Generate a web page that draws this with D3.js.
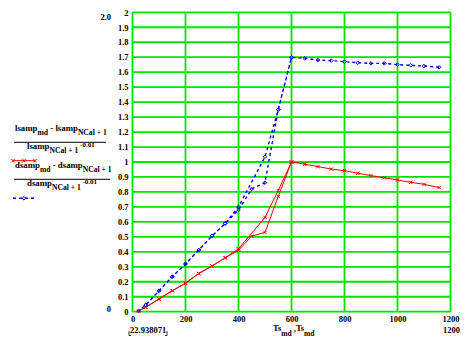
<!DOCTYPE html>
<html>
<head>
<meta charset="utf-8">
<script src="https://cdn.jsdelivr.net/npm/d3@7"></script>
<style>
  html, body { margin: 0; padding: 0; background: #fff; }
  svg text { font-family: "Liberation Serif", "Times New Roman", serif; font-weight: bold; fill: #000; }
</style>
</head>
<body>
<svg id="chart" width="475" height="340"></svg>
<script>
// Temperature sweep: cooling from 1157 down to 22.94, then heating back up to 600.
const ts = [1157, 1100, 1050, 1000, 950, 900, 850, 800, 750, 700, 650, 600,
            550, 500, 450, 400, 350, 300, 250, 200, 150, 100, 50, 22.938071,
            50, 100, 150, 200, 250, 300, 350, 400, 500, 550, 600];

// Normalised lsamp ratio (red)
const lRatio = [0.829, 0.851, 0.864, 0.880, 0.895, 0.909, 0.925, 0.942, 0.953, 0.969, 0.985, 1.000,
                0.770, 0.530, 0.505, 0.410, 0.360, 0.305, 0.255, 0.190, 0.140, 0.085, 0.030, 0.005,
                0.030, 0.085, 0.140, 0.190, 0.255, 0.305, 0.360, 0.420, 0.630, 0.810, 1.000];

// Normalised dsamp ratio (blue)
const dRatio = [1.633, 1.641, 1.646, 1.650, 1.659, 1.659, 1.663, 1.670, 1.677, 1.681, 1.693, 1.699,
                1.350, 0.862, 0.820, 0.680, 0.590, 0.506, 0.412, 0.319, 0.234, 0.140, 0.045, 0.005,
                0.045, 0.140, 0.234, 0.319, 0.412, 0.506, 0.590, 0.700, 1.035, 1.350, 1.699];

const xTicks = [0, 200, 400, 600, 800, 1000, 1200];
const yDomain = [0, 2];
const xDomain = [0, 1200];

const svg = d3.select("#chart");
const x = d3.scaleLinear(xDomain, [132.5, 450.5]);
const y = d3.scaleLinear(yDomain, [311.7, 12.3]);
const green = "#00e400";

// Grid (green lattice, frame included)
const grid = svg.append("g");
grid.selectAll("line.v").data(xTicks).join("line")
  .attr("x1", d => x(d)).attr("x2", d => x(d))
  .attr("y1", y(0)).attr("y2", y(2))
  .attr("stroke", green).attr("stroke-width", 1.8);
grid.selectAll("line.h").data(y.ticks(20)).join("line")
  .attr("x1", x(0)).attr("x2", x(1200))
  .attr("y1", d => y(d)).attr("y2", d => y(d))
  .attr("stroke", green).attr("stroke-width", 1.8);

// Axis labels via d3 axes (tick lines hidden; the grid carries them)
const yAxis = svg.append("g").attr("transform", `translate(${x(0)},0)`)
  .call(d3.axisLeft(y).ticks(20).tickFormat(d3.format("~g")).tickSize(0).tickPadding(4));
yAxis.select(".domain").remove();
yAxis.selectAll("text").attr("font-size", 8.5).attr("dy", "0.32em")
  .style("font-family", "Liberation Serif").style("font-weight", "bold");

const xAxis = svg.append("g").attr("transform", `translate(0,${y(0)})`)
  .call(d3.axisBottom(x).tickValues(xTicks).tickFormat(d3.format("d")).tickSize(0).tickPadding(4));
xAxis.select(".domain").remove();
xAxis.selectAll("text").attr("font-size", 8.5)
  .style("font-family", "Liberation Serif").style("font-weight", "bold");

// Axis limit labels
svg.append("text").attr("x", 111).attr("y", 19.5).attr("text-anchor", "end").attr("font-size", 8.5).text("2.0");
svg.append("text").attr("x", 111).attr("y", 312).attr("text-anchor", "end").attr("font-size", 8.5).text("0");
svg.append("text").attr("x", 130).attr("y", 333).attr("font-size", 8.5).text("22.938071");
svg.append("text").attr("x", 460).attr("y", 333).attr("text-anchor", "end").attr("font-size", 8.5).text("1200");
// placeholder corner marks around the lower-left limit
svg.append("path").attr("d", "M129,331V335.5H131 M167,331V335.5H165")
  .attr("stroke", "#000").attr("stroke-width", 0.8).attr("fill", "none");

// x axis expression: Ts_md , Ts_md
const xl = svg.append("text").attr("x", 273).attr("y", 331).attr("font-size", 8.5);
xl.append("tspan").text("Ts");
xl.append("tspan").attr("dy", 5).attr("font-size", 7.5).text("md");
xl.append("tspan").attr("dy", -5).text(" ,Ts");
xl.append("tspan").attr("dy", 5).attr("font-size", 7.5).text("md");

// Series
const pts = ts.map((t, i) => ({ t, l: lRatio[i], d: dRatio[i] }));
const redLine = d3.line().x(p => x(p.t)).y(p => y(p.l));
const blueLine = d3.line().x(p => x(p.t)).y(p => y(p.d));

svg.append("path").attr("d", redLine(pts)).attr("fill", "none")
  .attr("stroke", "#f00").attr("stroke-width", 1);
svg.append("path").attr("d", blueLine(pts)).attr("fill", "none")
  .attr("stroke", "#00f").attr("stroke-width", 1.4).attr("stroke-dasharray", "3,3");

const cross = s => `M${-s},${-s}L${s},${s}M${-s},${s}L${s},${-s}`;
const diamond = s => `M0,${-s}L${s},0L0,${s}L${-s},0Z`;

svg.append("g").selectAll("path").data(pts).join("path")
  .attr("transform", p => `translate(${x(p.t)},${y(p.l)})`)
  .attr("d", cross(1.7)).attr("stroke", "#f00").attr("stroke-width", 1).attr("fill", "none");
svg.append("g").selectAll("path").data(pts).join("path")
  .attr("transform", p => `translate(${x(p.t)},${y(p.d)})`)
  .attr("d", diamond(1.8)).attr("stroke", "#00f").attr("stroke-width", 1).attr("fill", "none");

// Legend: expression labels with sample strokes
function fraction(name, bar, barEnd) {
  const num = svg.append("text").attr("x", 15).attr("y", bar - 11).attr("font-size", 8.8);
  num.append("tspan").text(name);
  num.append("tspan").attr("dy", 3.5).attr("font-size", 7.6).text("md");
  num.append("tspan").attr("dy", -3.5).text(" - " + name);
  num.append("tspan").attr("dy", 4).attr("font-size", 7.6).text("NCal + 1");
  svg.append("line").attr("x1", 14).attr("x2", barEnd).attr("y1", bar).attr("y2", bar)
    .attr("stroke", "#000").attr("stroke-width", 1);
  const den = svg.append("text").attr("x", 27).attr("y", bar + 6.5).attr("font-size", 8.8);
  den.append("tspan").text(name);
  den.append("tspan").attr("dy", 4.5).attr("font-size", 7.6).text("NCal + 1");
  den.append("tspan").attr("dy", -6).attr("font-size", 7).text(" -0.01");
}
fraction("lsamp", 142.3, 106);
fraction("dsamp", 179.3, 110);

const legRed = [13, 24, 35];
svg.append("line").attr("x1", 13).attr("x2", 35).attr("y1", 160.7).attr("y2", 160.7)
  .attr("stroke", "#f00").attr("stroke-width", 1);
svg.append("g").selectAll("path").data(legRed).join("path")
  .attr("transform", d => `translate(${d},160.7)`)
  .attr("d", cross(1.7)).attr("stroke", "#f00").attr("stroke-width", 1);
svg.append("line").attr("x1", 13).attr("x2", 35).attr("y1", 198.3).attr("y2", 198.3)
  .attr("stroke", "#00f").attr("stroke-width", 1.4).attr("stroke-dasharray", "3,3");
svg.append("path").attr("transform", "translate(24,198.3)")
  .attr("d", diamond(1.8)).attr("stroke", "#00f").attr("stroke-width", 1).attr("fill", "#fff");
</script>
</body>
</html>
